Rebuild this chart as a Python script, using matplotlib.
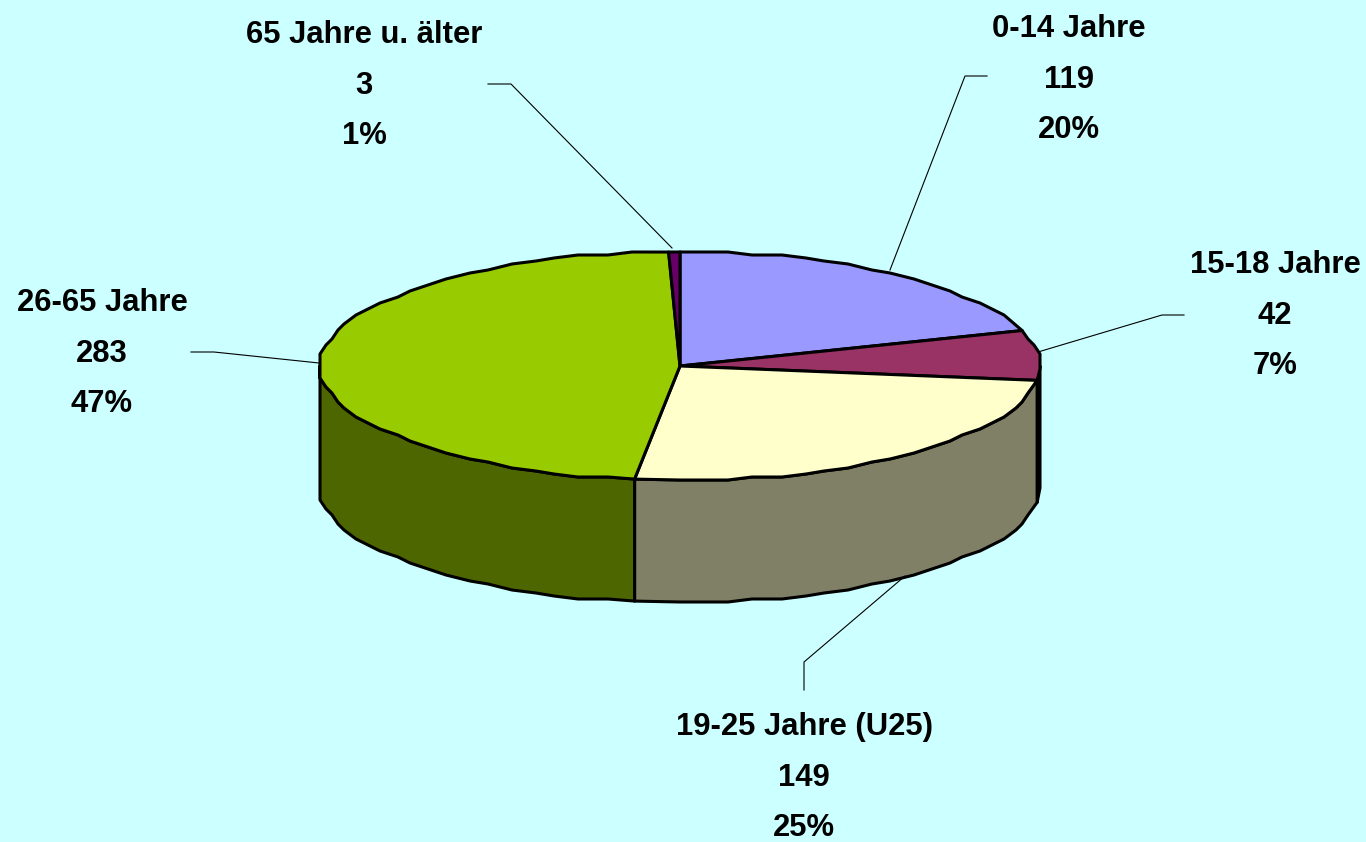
import numpy as np
import matplotlib
matplotlib.use("Agg")
import matplotlib.pyplot as plt
from matplotlib.patches import Polygon

categories = ["0-14 Jahre", "15-18 Jahre", "19-25 Jahre (U25)", "26-65 Jahre", "65 Jahre u. älter"]
values = [119, 42, 149, 283, 3]
percents = ["20%", "7%", "25%", "47%", "1%"]
top_colors = ["#9999FF", "#993366", "#FFFFCC", "#99CC00", "#660066"]
side_colors = ["#4D4D80", "#4D1A33", "#808066", "#4D6600", "#330033"]
background = "#CCFFFF"

CX, CY, RX, RY, DEPTH = 680, 366, 360, 114, 122
family = "Liberation Sans"

fig = plt.figure(figsize=(13.66, 8.42), dpi=100, facecolor=background)
ax = fig.add_axes([0, 0, 1, 1])
ax.set_xlim(0, 1366); ax.set_ylim(842, 0); ax.axis("off")

GRID_X, GRID_Y = 6, 3

def rim(a, b, dy=0, reverse=False):
    # elliptical arc from a to b, slightly stepped like the coarse outline of the original
    step = np.radians(4)
    inner = np.arange(np.ceil(a / step) + 1, np.floor(b / step)) * step
    x = RX * np.sin(inner)
    y = -RY * np.cos(inner)
    x = CX + np.round(x / GRID_X) * GRID_X
    y = CY + np.round(y / GRID_Y) * GRID_Y
    ends = np.array([[CX + RX * np.sin(a), CY - RY * np.cos(a)],
                     [CX + RX * np.sin(b), CY - RY * np.cos(b)]])
    pts = np.vstack([ends[:1], np.column_stack([x, y]), ends[1:]])
    pts[:, 1] += dy
    return pts[::-1] if reverse else pts

cum = np.concatenate([[0], np.cumsum(values)]) / sum(values) * 2 * np.pi

# side walls
for i in range(len(values)):
    a, b = max(cum[i], np.pi / 2), min(cum[i + 1], 3 * np.pi / 2)
    if b <= a:
        continue
    pts = np.vstack([rim(a, b), rim(a, b, DEPTH, reverse=True)])
    ax.add_patch(Polygon(pts, closed=True, fc=side_colors[i], ec="black", lw=2.2, joinstyle="round", zorder=2))

# top slices
for i in range(len(values)):
    pts = np.vstack([[CX, CY], rim(cum[i], cum[i + 1])])
    ax.add_patch(Polygon(pts, closed=True, fc=top_colors[i], ec="black", lw=2.2, joinstyle="round", zorder=3))

# labels
label_pos = [(1069, 27), (1275, 263), (804, 725), (102, 301), (364, 33)]
leaders = [
    [(987, 76), (965, 76), (890, 270)],
    [(1184, 315), (1162, 315), (1038, 352)],
    [(804, 690), (804, 662), (905, 576)],
    [(191, 352), (214, 352), (319, 363)],
    [(488, 84), (511, 84), (672, 248)],
]
for name, val, pct, (x, y), leader in zip(categories, values, percents, label_pos, leaders):
    for k, s in enumerate([name, str(val), pct]):
        ax.text(x, y + 2 + k * 50.5, s, ha="center", va="center", fontsize=22.3, fontweight="bold",
                family=family, color="black", zorder=5)
    xs, ys = zip(*leader)
    ax.plot(xs, ys, color="black", lw=0.8, zorder=4)

fig.savefig("out.png", dpi=100, facecolor=background)
